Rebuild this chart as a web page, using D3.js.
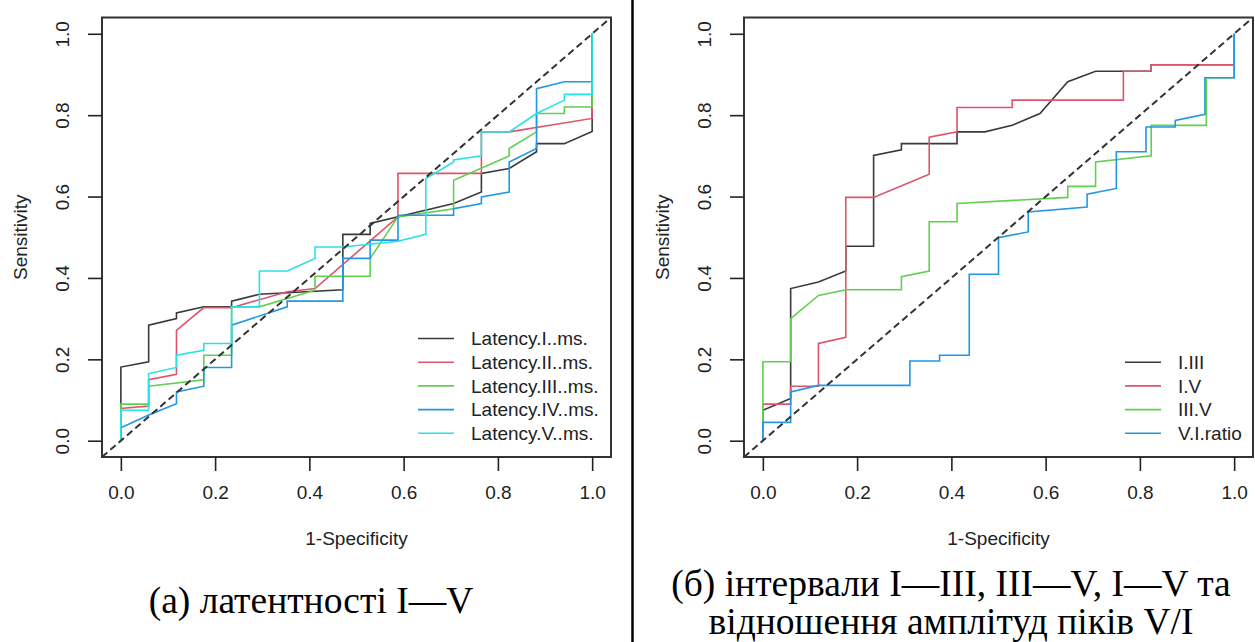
<!DOCTYPE html>
<html>
<head>
<meta charset="utf-8">
<script src="https://cdn.jsdelivr.net/npm/d3@7"></script>
<style>
body { margin: 0; background: #fff; }
</style>
</head>
<body>
<script>
// ROC curves, each point is [1-specificity, sensitivity]
var latencyI = [[0,0],[0,0.181],[0.059,0.194],[0.059,0.284],[0.118,0.300],[0.118,0.314],[0.176,0.329],[0.235,0.329],[0.235,0.343],[0.294,0.36],[0.471,0.371],[0.471,0.507],[0.529,0.507],[0.529,0.534],[0.706,0.583],[0.765,0.611],[0.765,0.657],[0.824,0.669],[0.882,0.71],[0.882,0.73],[0.941,0.73],[1,0.76],[1,1]];
var latencyII = [[0,0],[0,0.079],[0.059,0.085],[0.059,0.15],[0.118,0.163],[0.118,0.271],[0.176,0.327],[0.235,0.327],[0.353,0.366],[0.412,0.374],[0.588,0.55],[0.588,0.657],[0.765,0.657],[0.765,0.759],[0.824,0.759],[1,0.792],[1,1]];
var latencyIII = [[0,0],[0,0.09],[0.059,0.09],[0.059,0.134],[0.176,0.15],[0.176,0.21],[0.235,0.21],[0.235,0.329],[0.294,0.329],[0.412,0.37],[0.412,0.404],[0.529,0.404],[0.529,0.448],[0.588,0.55],[0.706,0.57],[0.706,0.64],[0.824,0.70],[0.824,0.718],[0.882,0.759],[0.882,0.804],[0.941,0.804],[0.941,0.82],[1,0.82],[1,1]];
var latencyIV = [[0,0],[0,0.032],[0.059,0.063],[0.118,0.091],[0.118,0.12],[0.176,0.134],[0.176,0.18],[0.235,0.18],[0.235,0.284],[0.353,0.329],[0.353,0.343],[0.471,0.343],[0.471,0.448],[0.529,0.448],[0.529,0.493],[0.588,0.493],[0.588,0.554],[0.706,0.554],[0.706,0.57],[0.765,0.583],[0.765,0.599],[0.824,0.611],[0.824,0.685],[0.882,0.718],[0.882,0.865],[0.941,0.882],[1,0.882],[1,1]];
var latencyV = [[0,0],[0,0.075],[0.059,0.075],[0.059,0.165],[0.118,0.18],[0.118,0.21],[0.176,0.222],[0.176,0.239],[0.235,0.239],[0.235,0.329],[0.294,0.329],[0.294,0.417],[0.353,0.417],[0.412,0.448],[0.412,0.476],[0.471,0.476],[0.588,0.49],[0.647,0.507],[0.647,0.644],[0.706,0.685],[0.706,0.69],[0.765,0.70],[0.765,0.759],[0.824,0.759],[0.882,0.804],[0.941,0.837],[0.941,0.851],[1,0.851],[1,1]];

var intervalI_III = [[0,0],[0,0.075],[0.059,0.104],[0.059,0.374],[0.118,0.39],[0.176,0.417],[0.176,0.478],[0.235,0.478],[0.235,0.701],[0.294,0.715],[0.294,0.73],[0.412,0.73],[0.412,0.759],[0.471,0.759],[0.529,0.775],[0.588,0.804],[0.647,0.882],[0.706,0.908],[0.824,0.908],[0.824,0.924],[1,0.924],[1,1]];
var intervalI_V = [[0,0],[0,0.09],[0.059,0.09],[0.059,0.134],[0.118,0.134],[0.118,0.239],[0.176,0.254],[0.176,0.598],[0.235,0.598],[0.353,0.655],[0.353,0.746],[0.412,0.759],[0.412,0.819],[0.529,0.819],[0.529,0.837],[0.765,0.837],[0.765,0.908],[0.824,0.908],[0.824,0.924],[1,0.924],[1,1]];
var intervalIII_V = [[0,0],[0,0.194],[0.059,0.194],[0.059,0.30],[0.118,0.357],[0.176,0.371],[0.294,0.371],[0.294,0.403],[0.353,0.417],[0.353,0.538],[0.412,0.538],[0.412,0.583],[0.647,0.598],[0.647,0.625],[0.706,0.625],[0.706,0.685],[0.824,0.70],[0.824,0.775],[0.941,0.775],[0.941,0.892],[1,0.892],[1,1]];
var ratioV_I = [[0,0],[0,0.045],[0.059,0.045],[0.059,0.12],[0.118,0.136],[0.312,0.136],[0.312,0.196],[0.375,0.196],[0.375,0.21],[0.438,0.21],[0.438,0.409],[0.5,0.409],[0.5,0.499],[0.563,0.513],[0.563,0.562],[0.688,0.574],[0.688,0.606],[0.75,0.62],[0.75,0.71],[0.813,0.71],[0.813,0.771],[0.875,0.771],[0.875,0.787],[0.938,0.802],[0.938,0.892],[1,0.892],[1,1]];

var labelsA = ["Latency.I..ms.", "Latency.II..ms.", "Latency.III..ms.", "Latency.IV..ms.", "Latency.V..ms."];
var labelsB = ["I.III", "I.V", "III.V", "V.I.ratio"];
var tickValues = [0, 0.2, 0.4, 0.6, 0.8, 1.0];
var captionA = ["(а) латентності I—V"];
var captionB = ["(б) інтервали I—III, III—V, I—V та", "відношення амплітуд піків V/I"];
var colors = ["#3a3a3a", "#df536b", "#61d04f", "#2297e6", "#28e2e5"];

var width = 1255, height = 642;
var plotTop = 17.5, plotBottom = 457;
var sans = "'Liberation Sans', Arial, sans-serif";

var svg = d3.select("body")
  .append("svg")
  .attr("width", width)
  .attr("height", height)
  .style("background", "#fff");

function drawPanel(left, right, series, labels, legendLeft) {
  var x = d3.scaleLinear().domain([-0.04, 1.04]).range([left, right]);
  var y = d3.scaleLinear().domain([-0.04, 1.04]).range([plotBottom, plotTop]);
  var line = d3.line().x(function(d) { return x(d[0]); }).y(function(d) { return y(d[1]); });
  var g = svg.append("g");

  g.selectAll("path.roc")
    .data(series)
    .enter()
    .append("path")
    .attr("class", "roc")
    .attr("d", line)
    .attr("fill", "none")
    .attr("stroke", function(d, i) { return colors[i]; })
    .attr("stroke-width", 1.6);

  // chance line
  g.append("path")
    .attr("d", line([[-0.04, -0.04], [1.04, 1.04]]))
    .attr("fill", "none")
    .attr("stroke", "#333")
    .attr("stroke-width", 2)
    .attr("stroke-dasharray", "7,4");

  g.append("rect")
    .attr("x", left).attr("y", plotTop)
    .attr("width", right - left).attr("height", plotBottom - plotTop)
    .attr("fill", "none").attr("stroke", "#333").attr("stroke-width", 2);

  // x axis
  var gx = g.append("g")
    .attr("transform", "translate(0," + plotBottom + ")")
    .call(d3.axisBottom(x).tickValues(tickValues).tickFormat(d3.format(".1f"))
      .tickSize(14).tickPadding(15).tickSizeOuter(0));
  gx.select(".domain").remove();

  // y axis, labels rotated like R
  var gy = g.append("g")
    .attr("transform", "translate(" + left + ",0)")
    .call(d3.axisLeft(y).tickValues(tickValues).tickFormat(d3.format(".1f"))
      .tickSize(14).tickSizeOuter(0));
  gy.select(".domain").remove();
  gy.selectAll(".tick text")
    .attr("x", 0).attr("dy", 0)
    .attr("text-anchor", "middle")
    .attr("transform", "translate(-33,0) rotate(-90)");

  [gx, gy].forEach(function(a) {
    a.attr("font-family", sans).attr("font-size", 19).style("color", "#222");
    a.selectAll(".tick line").attr("stroke-width", 1.6);
  });

  g.append("text")
    .attr("x", (left + right) / 2).attr("y", 545)
    .attr("text-anchor", "middle")
    .attr("font-family", sans).attr("font-size", 19).attr("fill", "#222")
    .text("1-Specificity");

  g.append("text")
    .attr("transform", "translate(" + (left - 75) + "," + ((plotTop + plotBottom) / 2) + ") rotate(-90)")
    .attr("text-anchor", "middle")
    .attr("font-family", sans).attr("font-size", 19).attr("fill", "#222")
    .text("Sensitivity");

  // legend
  var rowStart = 433.3 - (labels.length - 1) * 23.7;
  var leg = g.selectAll("g.legend")
    .data(labels)
    .enter()
    .append("g")
    .attr("class", "legend")
    .attr("transform", function(d, i) { return "translate(" + legendLeft + "," + (rowStart + i * 23.7) + ")"; });
  leg.append("line")
    .attr("x1", 0).attr("x2", 36)
    .attr("stroke", function(d, i) { return colors[i]; })
    .attr("stroke-width", 1.6);
  leg.append("text")
    .attr("x", 53).attr("dy", "0.36em")
    .attr("font-family", sans).attr("font-size", 19).attr("fill", "#222")
    .text(function(d) { return d; });
}

drawPanel(102, 611, [latencyI, latencyII, latencyIII, latencyIV, latencyV], labelsA, 418);
drawPanel(744, 1253, [intervalI_III, intervalI_V, intervalIII_V, ratioV_I], labelsB, 1125);

// panel divider
svg.append("line")
  .attr("x1", 632.5).attr("x2", 632.5)
  .attr("y1", 0).attr("y2", height)
  .attr("stroke", "#000").attr("stroke-width", 2.5);

// captions
function caption(lines, cx, firstBaseline) {
  svg.selectAll(null)
    .data(lines)
    .enter()
    .append("text")
    .attr("x", cx)
    .attr("y", function(d, i) { return firstBaseline + i * 38; })
    .attr("text-anchor", "middle")
    .attr("font-family", "'Liberation Serif', 'Times New Roman', serif")
    .attr("font-size", 37.5)
    .attr("fill", "#000")
    .text(function(d) { return d; });
}
caption(captionA, 311, 613);
caption(captionB, 951, 596);
</script>
</body>
</html>
